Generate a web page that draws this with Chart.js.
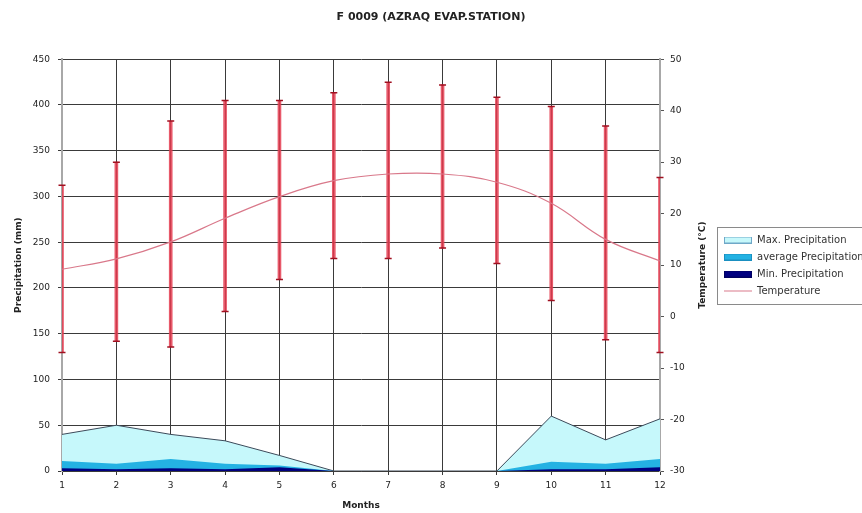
<!DOCTYPE html>
<html>
<head>
<meta charset="utf-8">
<script src="https://cdn.jsdelivr.net/npm/chart.js@4.4.1/dist/chart.umd.min.js"></script>
<style>
  body { margin: 0; background: #fff; }
</style>
</head>
<body>
<canvas id="climateChart" width="862" height="513"></canvas>
<script>
const months = ['1', '2', '3', '4', '5', '6', '7', '8', '9', '10', '11', '12'];
const maxPrecip = [40, 50, 40, 33, 17, 0, 0, 0, 0, 60, 34, 57];
const avgPrecip = [11, 8, 13, 8, 6, 0, 0, 0, 0, 10, 8, 13];
const minPrecip = [3, 2, 3, 2, 4, 0, 0, 0, 0, 2, 2, 4];
const meanTemp = [9.2, 11.2, 14.5, 19.1, 23.3, 26.4, 27.7, 27.7, 26.1, 22, 15, 10.8];
const maxTemp = [25.5, 30, 38, 42, 42, 43.5, 45.5, 45, 42.6, 40.8, 37, 27];
const minTemp = [-7, -4.8, -5.9, 1, 7.2, 11.3, 11.3, 13.3, 10.3, 3.1, -4.5, -7];
const precipTicks = [0, 450, 50];   // min, max, step
const tempTicks = [-30, 50, 10];

Chart.defaults.font.family = '"DejaVu Sans", sans-serif';
Chart.defaults.font.size = 9;
Chart.defaults.color = '#222';

// small pictures for the legend keys
function swatch(fill, stroke, asLine) {
    const c = document.createElement('canvas');
    c.width = 28; c.height = 7;
    const g = c.getContext('2d');
    if (asLine) {
        g.strokeStyle = stroke;
        g.lineWidth = 1;
        g.beginPath(); g.moveTo(0, 3.5); g.lineTo(28, 3.5); g.stroke();
    } else {
        g.fillStyle = fill;
        g.fillRect(0, 0, 28, 7);
        g.strokeStyle = stroke;
        g.strokeRect(0.5, 0.5, 27, 6);
    }
    return c;
}
const swatches = [
    swatch('#c6f8fb', '#6fa8c8'),
    swatch('#24b2e3', '#1a8fc0'),
    swatch('#000080', '#000060'),
    swatch(null, '#d9788a', true)
];

// border round the legend
const legendFrame = {
    id: 'legendFrame',
    afterDraw(chart) {
        const lg = chart.legend;
        if (!lg || !lg.legendHitBoxes.length) return;
        const boxes = lg.legendHitBoxes;
        const last = boxes[boxes.length - 1];
        const top = boxes[0].top - 8;
        const bottom = last.top + last.height + 8;
        const ctx = chart.ctx;
        ctx.save();
        ctx.strokeStyle = '#8a8a8a';
        ctx.lineWidth = 1;
        ctx.strokeRect(Math.round(lg.left) + 0.5, Math.round(top) + 0.5, chart.width, Math.round(bottom - top));
        ctx.restore();
    }
};

// right axis title, read bottom to top like the left one
const tempTitle = {
    id: 'tempTitle',
    afterDraw(chart) {
        const s = chart.scales.yT;
        const ctx = chart.ctx;
        ctx.save();
        ctx.translate(s.right - 14, (s.top + s.bottom) / 2);
        ctx.rotate(-Math.PI / 2);
        ctx.font = 'bold 9px "DejaVu Sans"';
        ctx.fillStyle = '#222';
        ctx.textAlign = 'center';
        ctx.textBaseline = 'middle';
        ctx.fillText('Temperature (°C)', 0, 0);
        ctx.restore();
    }
};

new Chart(document.getElementById('climateChart'), {
    type: 'line',
    data: {
        labels: months,
        datasets: [{
            label: 'Max. Precipitation',
            data: maxPrecip,
            yAxisID: 'y',
            fill: 'origin',
            backgroundColor: '#c6f8fb',
            borderColor: '#3c4a5a',
            borderWidth: 1,
            pointRadius: 0,
            tension: 0,
            order: 5
        }, {
            label: 'average Precipitation',
            data: avgPrecip,
            yAxisID: 'y',
            fill: 'origin',
            backgroundColor: '#24b2e3',
            borderColor: '#24b2e3',
            borderWidth: 0,
            pointRadius: 0,
            tension: 0,
            order: 4
        }, {
            label: 'Min. Precipitation',
            data: minPrecip,
            yAxisID: 'y',
            fill: 'origin',
            backgroundColor: '#000080',
            borderColor: '#000080',
            borderWidth: 0,
            pointRadius: 0,
            tension: 0,
            order: 3
        }, {
            label: 'Temperature',
            data: meanTemp,
            yAxisID: 'yT',
            fill: false,
            borderColor: '#d9788a',
            borderWidth: 1.2,
            pointRadius: 0,
            tension: 0.4,
            order: 0
        }, {
            type: 'bar',
            label: 'Temperature range',
            data: months.map((m, i) => [minTemp[i], maxTemp[i]]),
            yAxisID: 'yT',
            backgroundColor: 'rgba(228,60,80,0.85)',
            borderWidth: 0,
            barThickness: 3,
            order: 2
        }, {
            label: 'Max temp',
            data: maxTemp,
            yAxisID: 'yT',
            showLine: false,
            pointStyle: 'line',
            pointRadius: 3.5,
            pointBorderWidth: 1.5,
            pointBorderColor: '#a01020',
            order: 1
        }, {
            label: 'Min temp',
            data: minTemp,
            yAxisID: 'yT',
            showLine: false,
            pointStyle: 'line',
            pointRadius: 3.5,
            pointBorderWidth: 1.5,
            pointBorderColor: '#a01020',
            order: 1
        }]
    },
    options: {
        responsive: false,
        animation: false,
        layout: { padding: 0 },
        plugins: {
            title: {
                display: true,
                text: 'F 0009 (AZRAQ EVAP.STATION)',
                font: { size: 11, weight: 'bold' },
                color: '#222',
                padding: { top: 11, bottom: 35 }
            },
            legend: {
                position: 'right',
                maxWidth: 145,
                // empty title only pushes the items down a little
                title: { display: true, text: ' ', font: { size: 10 }, padding: { top: 3, bottom: 3 } },
                labels: {
                    usePointStyle: true,
                    pointStyleWidth: 28,
                    boxHeight: 7,
                    padding: 7,
                    color: '#333',
                    font: { size: 10 },
                    filter: item => item.datasetIndex < 4,
                    sort: (a, b) => a.datasetIndex - b.datasetIndex,
                    generateLabels(chart) {
                        const items = Chart.defaults.plugins.legend.labels.generateLabels(chart);
                        items.forEach(it => { it.pointStyle = swatches[it.datasetIndex]; });
                        return items;
                    }
                }
            },
            tooltip: { enabled: false }
        },
        scales: {
            x: {
                type: 'category',
                offset: false,
                grid: { color: '#3a3a3a', offset: false, tickLength: 4 },
                border: { color: '#3a3a3a' },
                ticks: { padding: 5, maxRotation: 0 },
                title: { display: true, text: 'Months', font: { weight: 'bold' }, padding: { top: 2, bottom: 2 } },
                afterFit: s => { s.height = 42; }
            },
            y: {
                position: 'left',
                min: precipTicks[0],
                max: precipTicks[1],
                ticks: { stepSize: precipTicks[2], padding: 8 },
                grid: { color: '#3a3a3a', tickLength: 4 },
                border: { color: '#a8a8a8', width: 2 },
                title: { display: true, text: 'Precipitation (mm)', font: { weight: 'bold' }, padding: { top: 13 } },
                afterFit: s => { s.width = 62; }
            },
            yT: {
                position: 'right',
                min: tempTicks[0],
                max: tempTicks[1],
                ticks: { stepSize: tempTicks[2], padding: 6 },
                grid: { drawOnChartArea: false, color: '#555', tickLength: 4 },
                border: { color: '#a8a8a8', width: 2 },
                afterFit: s => { s.width = 57; }
            }
        }
    },
    plugins: [legendFrame, tempTitle]
});
</script>
</body>
</html>
